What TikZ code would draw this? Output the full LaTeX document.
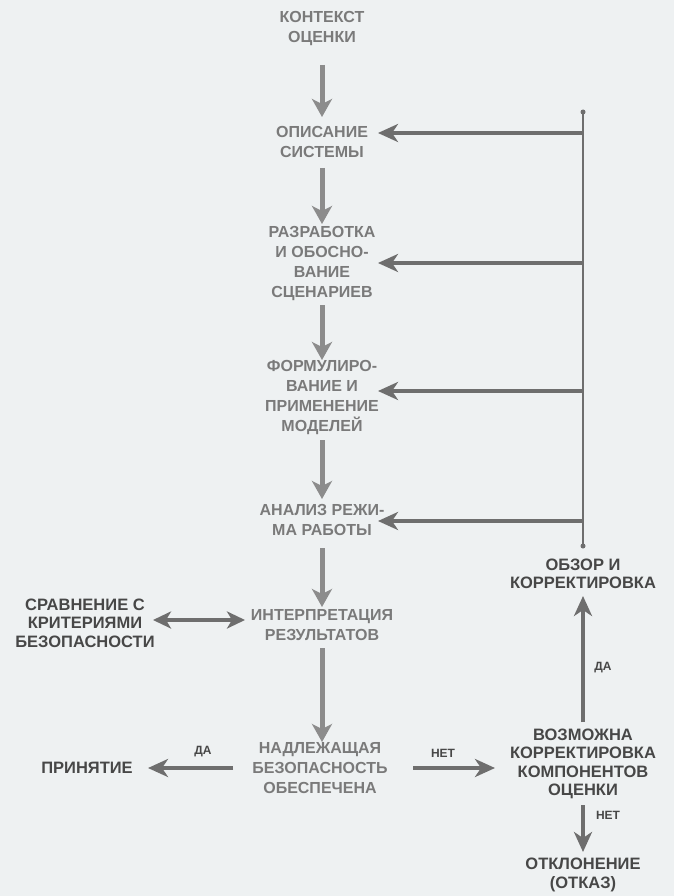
\documentclass[tikz,border=0pt]{standalone}
\usepackage{fontspec}
\setmainfont{Liberation Sans}
\usetikzlibrary{arrows.meta}
\definecolor{bg}{HTML}{EEF1F2}
\definecolor{ctext}{HTML}{7A7A7A}
\definecolor{stext}{HTML}{474747}
\definecolor{carr}{HTML}{8C8C8C}
\definecolor{rarr}{HTML}{6E6E6E}
\tikzset{
  ctr/.style={align=center, text=ctext, inner sep=1pt, font=\fontsize{16}{20}\selectfont\bfseries},
  side/.style={align=center, text=stext, inner sep=1pt, font=\fontsize{16.5}{18.5}\selectfont\bfseries},
  small/.style={text=stext, inner sep=1pt, font=\fontsize{12}{13}\selectfont\bfseries},
  carrow/.style={draw=carr, line width=5pt, -{Stealth[length=18pt,width=20pt,inset=5pt]}},
  rarrow/.style={draw=rarr, line width=4.5pt, -{Stealth[length=20pt,width=18pt,inset=6pt]}},
  darrow/.style={draw=rarr, line width=4.5pt, {Stealth[length=18pt,width=17pt,inset=5pt]}-{Stealth[length=18pt,width=17pt,inset=5pt]}},
  thin/.style={draw=rarr, line width=1.3pt},
  dotc/.style={fill=rarr, circle, inner sep=0pt, minimum size=5pt}
}
\begin{document}
\begin{tikzpicture}[x=1pt,y=-1pt]
\fill[bg] (0,0) rectangle (674,896);
\useasboundingbox (0,0) rectangle (674,896);

% centre column
\node[ctr] (ctx) at (322,29) {КОНТЕКСТ\\ОЦЕНКИ};
\node[ctr] (sys) at (322,142) {ОПИСАНИЕ\\СИСТЕМЫ};
\node[ctr] (scn) at (322,264) {РАЗРАБОТКА\\И ОБОСНО-\\ВАНИЕ\\СЦЕНАРИЕВ};
\node[ctr] (mdl) at (322,398) {ФОРМУЛИРО-\\ВАНИЕ И\\ПРИМЕНЕНИЕ\\МОДЕЛЕЙ};
\node[ctr] (anl) at (322,520) {АНАЛИЗ РЕЖИ-\\МА РАБОТЫ};
\node[ctr] (int) at (322,625) {ИНТЕРПРЕТАЦИЯ\\РЕЗУЛЬТАТОВ};
\node[ctr] (saf) at (320,768) {НАДЛЕЖАЩАЯ\\БЕЗОПАСНОСТЬ\\ОБЕСПЕЧЕНА};

% side nodes
\node[side] (cmp) at (85,623) {СРАВНЕНИЕ С\\КРИТЕРИЯМИ\\БЕЗОПАСНОСТИ};
\node[side] (acc) at (87,768) {ПРИНЯТИЕ};
\node[side] (rev) at (583,574) {ОБЗОР И\\КОРРЕКТИРОВКА};
\node[side] (pos) at (583,764) {ВОЗМОЖНА\\КОРРЕКТИРОВКА\\КОМПОНЕНТОВ\\ОЦЕНКИ};
\node[side] (rej) at (583,875) {ОТКЛОНЕНИЕ\\(ОТКАЗ)};

% centre arrows
\draw[carrow] (322,65) -- (322,117);
\draw[carrow] (322,168) -- (322,224);
\draw[carrow] (322,305) -- (322,360);
\draw[carrow] (322,440) -- (322,499);
\draw[carrow] (322,548) -- (322,607);
\draw[carrow] (322,648) -- (322,742);

% feedback line
\coordinate (ltop) at (583,112);
\coordinate (lbot) at (583,546);
\draw[thin] (ltop) -- (lbot);
\node[dotc] at (ltop) {};
\node[dotc] at (lbot) {};
\coordinate (f1) at (583,133); \coordinate (t1) at (378,133);
\coordinate (f2) at (583,263); \coordinate (t2) at (378,263);
\coordinate (f3) at (583,391); \coordinate (t3) at (378,391);
\coordinate (f4) at (583,521); \coordinate (t4) at (378,521);
\draw[rarrow] (f1) -- (t1);
\draw[rarrow] (f2) -- (t2);
\draw[rarrow] (f3) -- (t3);
\draw[rarrow] (f4) -- (t4);

% interpretation <-> comparison
\draw[darrow] (153,620) -- (245,620);

% decisions
\draw[rarrow] (233,768) -- (148,768);
\node[small] (yes1) at (203,752) {ДА};
\draw[rarrow] (413,768) -- (495,768);
\node[small] (no1) at (443,753) {НЕТ};
\draw[rarrow] (583,722) -- (583,596);
\node[small] (yes2) at (603,668) {ДА};
\draw[rarrow] (583,805) -- (583,852);
\node[small] (no2) at (608,815) {НЕТ};
\end{tikzpicture}
\end{document}
